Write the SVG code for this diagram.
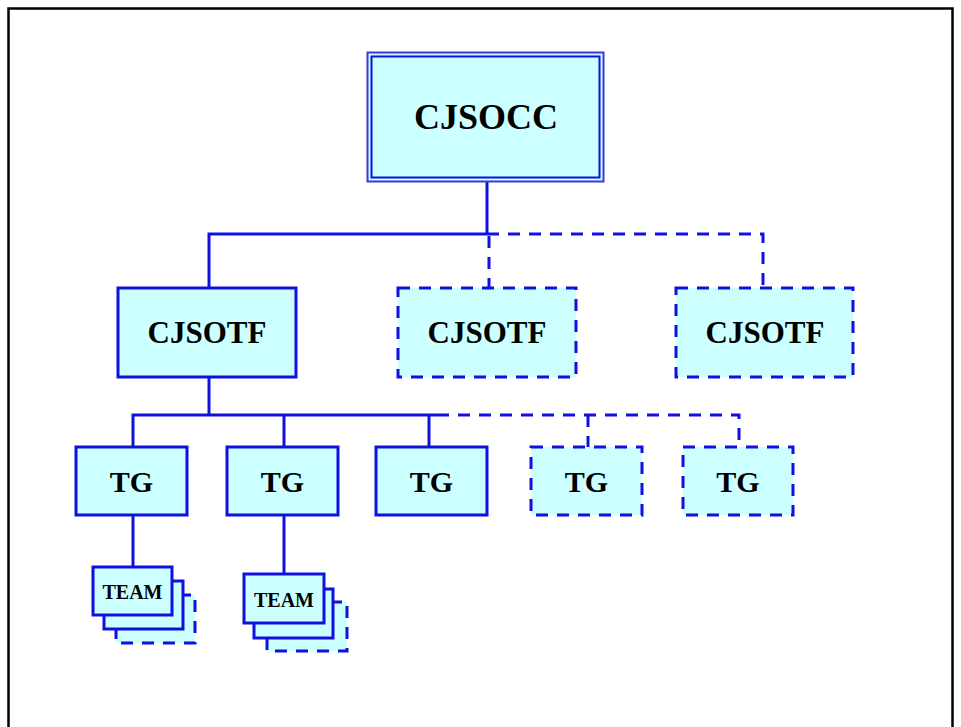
<svg xmlns="http://www.w3.org/2000/svg" width="961" height="727" viewBox="0 0 961 727">
<style>
.box{fill:#ccffff;stroke:#1010e0;stroke-width:3}
.dbox{fill:#ccffff;stroke:#1010e0;stroke-width:3;stroke-dasharray:12 9}
.ln{fill:none;stroke:#1010e0;stroke-width:3}
.dln{fill:none;stroke:#1010e0;stroke-width:3;stroke-dasharray:12 9}
text{font-family:"Liberation Serif","Times New Roman",serif;font-weight:bold;fill:#000;text-anchor:middle}
.t1{font-size:36px}
.t2{font-size:31px}
.t3{font-size:30px}
.t4{font-size:20px}
</style>
<rect x="0" y="0" width="961" height="727" fill="#fff"/>
<rect x="8.5" y="8.5" width="944" height="730" fill="none" stroke="#000" stroke-width="2.5"/>
<g id="connectors">
<line class="ln" x1="487" y1="181" x2="487" y2="234"/>
<polyline class="ln" points="487,234 209,234 209,288"/>
<polyline class="dln" points="487,234 763,234 763,288"/>
<line class="dln" x1="489" y1="236" x2="489" y2="288"/>
<line class="ln" x1="209" y1="377" x2="209" y2="415"/>
<polyline class="ln" points="133,447 133,415 437,415"/>
<line class="ln" x1="284" y1="415" x2="284" y2="447"/>
<line class="ln" x1="429" y1="415" x2="429" y2="447"/>
<polyline class="dln" points="437,415 739,415 739,447"/>
<line class="dln" x1="588" y1="415" x2="588" y2="447"/>
<line class="ln" x1="133" y1="515" x2="133" y2="567"/>
<line class="ln" x1="284" y1="515" x2="284" y2="574"/>
</g>
<g id="cjsocc">
<rect x="367.5" y="52.5" width="236" height="129" fill="#ccffff" stroke="#3a3ad0" stroke-width="2"/>
<rect x="371.5" y="56.5" width="228" height="121" fill="none" stroke="#1010e0" stroke-width="2"/>
<text class="t1" x="486" y="129">CJSOCC</text>
</g>
<g id="cjsotf1">
<rect class="box" x="118" y="288" width="178" height="89"/>
<text class="t2" x="207" y="343">CJSOTF</text>
</g>
<g id="cjsotf2">
<rect class="dbox" x="398" y="288" width="178" height="89"/>
<text class="t2" x="487" y="343">CJSOTF</text>
</g>
<g id="cjsotf3">
<rect class="dbox" x="676" y="288" width="177" height="89"/>
<text class="t2" x="765" y="343">CJSOTF</text>
</g>
<g id="tg1">
<rect class="box" x="76" y="447" width="111" height="68"/>
<text class="t3" x="131.5" y="492">TG</text>
</g>
<g id="tg2">
<rect class="box" x="227" y="447" width="111" height="68"/>
<text class="t3" x="282.5" y="492">TG</text>
</g>
<g id="tg3">
<rect class="box" x="376" y="447" width="111" height="68"/>
<text class="t3" x="431.5" y="492">TG</text>
</g>
<g id="tg4">
<rect class="dbox" x="531" y="447" width="111" height="68"/>
<text class="t3" x="586.5" y="492">TG</text>
</g>
<g id="tg5">
<rect class="dbox" x="683" y="447" width="110" height="68"/>
<text class="t3" x="738" y="492">TG</text>
</g>
<g id="team1">
<rect class="dbox" x="116" y="595" width="79" height="48"/>
<rect class="box" x="104" y="581" width="79" height="48"/>
<rect class="box" x="93" y="567" width="79" height="48"/>
<text class="t4" x="132.5" y="599">TEAM</text>
</g>
<g id="team2">
<rect class="dbox" x="267" y="602" width="80" height="49"/>
<rect class="box" x="254" y="589" width="79" height="49"/>
<rect class="box" x="244" y="574" width="80" height="49"/>
<text class="t4" x="284" y="607">TEAM</text>
</g>
</svg>
